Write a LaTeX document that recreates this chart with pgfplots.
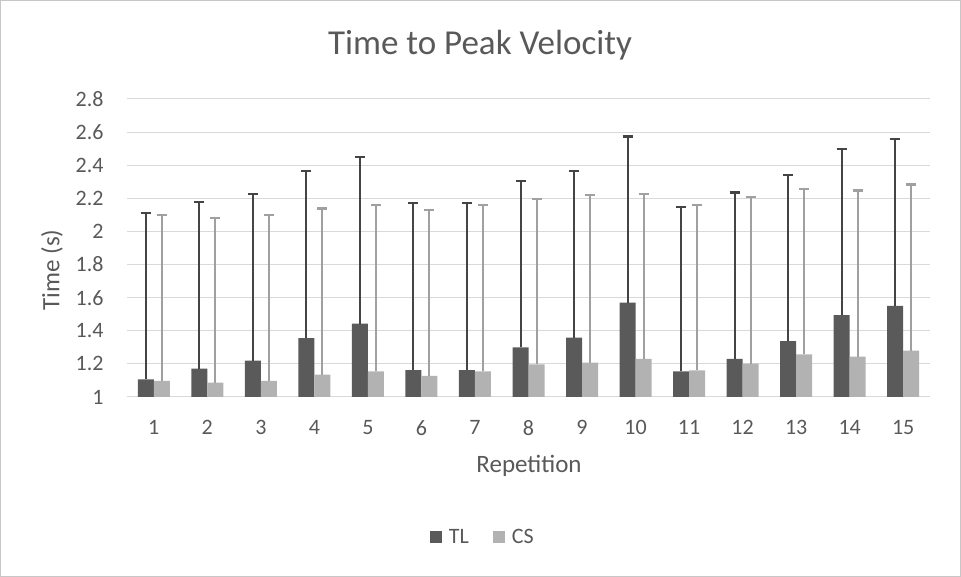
\documentclass[border=0pt]{standalone}
\usepackage{pgfplots}
\pgfplotsset{compat=1.18}
\usepackage{pgfplotstable}
\usepackage{fontspec}
\setmainfont{Carlito}
\definecolor{txt}{HTML}{595959}
\definecolor{tlc}{HTML}{5A5A5A}
\definecolor{csc}{HTML}{B2B2B2}
\definecolor{tle}{HTML}{444444}
\definecolor{cse}{HTML}{A0A0A0}
\definecolor{grd}{HTML}{D9D9D9}
\pgfplotstableread{
x tl tle cs cse
1 1.107 1.003 1.097 1.003
2 1.171 1.007 1.087 0.993
3 1.220 1.007 1.097 1.003
4 1.356 1.010 1.135 1.003
5 1.443 1.007 1.155 1.003
6 1.163 1.007 1.127 1.003
7 1.163 1.007 1.155 1.003
8 1.300 1.005 1.197 1.001
9 1.358 1.008 1.207 1.011
10 1.570 1.003 1.231 0.996
11 1.155 0.993 1.161 0.997
12 1.231 1.004 1.201 1.007
13 1.338 1.003 1.258 0.999
14 1.494 1.003 1.244 1.003
15 1.550 1.007 1.280 1.003
}\data
\begin{document}
\begin{tikzpicture}[x=1pt,y=1pt]
\useasboundingbox (0,0) rectangle (961,577);
\draw[color=grd!80!gray,line width=1pt] (0.5,0.5) rectangle (960.5,576.5);
\node[text=txt,font=\fontsize{35}{40}\selectfont] at (480,532) {Time to Peak Velocity};
\begin{axis}[
  at={(127pt,180pt)}, anchor=south west,
  scale only axis, width=803pt, height=298pt,
  ymin=1, ymax=2.8,
  ytick={1,1.2,1.4,1.6,1.8,2,2.2,2.4,2.6,2.8},
  yticklabels={1,1.2,1.4,1.6,1.8,2,2.2,2.4,2.6,2.8},
  xmin=0.5, xmax=15.5,
  xtick={1,...,15},
  ybar=0pt, bar width=16pt,
  axis x line*=bottom,
  axis y line*=left,
  y axis line style={draw=none},
  x axis line style={color=grd,line width=1pt,-},
  ymajorgrids, grid style={color=grd,line width=1pt},
  major tick length=0pt,
  /pgf/number format/assume math mode=true,
  ticklabel style={text=txt,font=\fontsize{22}{25}\selectfont},
  yticklabel style={xshift=-20pt},
  xticklabel style={yshift=-20pt},
  legend style={at={(0.443,-0.47)}, anchor=center, draw=none, fill=none,
    legend columns=2, font=\fontsize{22}{25}\selectfont, text=txt,
    /tikz/every odd column/.append style={column sep=5pt},
    /tikz/every even column/.append style={column sep=22pt}},
  legend image code/.code={\fill[#1] (0pt,-6pt) rectangle (12pt,6pt);},
]
\addplot[fill=tlc, draw=none,
  error bars/.cd, y dir=plus, y explicit,
  error bar style={color=tle,line width=2pt},
  error mark options={rotate=90,mark size=5pt,line width=2.2pt,color=tle}]
  table[x=x,y=tl,y error=tle]{\data};
\addlegendentry{TL}
\addplot[fill=csc, draw=none,
  error bars/.cd, y dir=plus, y explicit,
  error bar style={color=cse,line width=2pt},
  error mark options={rotate=90,mark size=5pt,line width=2.2pt,color=cse}]
  table[x=x,y=cs,y error=cse]{\data};
\addlegendentry{CS}
\end{axis}
\node[text=txt,font=\fontsize{25}{30}\selectfont] at (529,111) {Repetition};
\node[text=txt,font=\fontsize{25}{30}\selectfont,rotate=90] at (52,307) {Time (s)};
\end{tikzpicture}
\end{document}
